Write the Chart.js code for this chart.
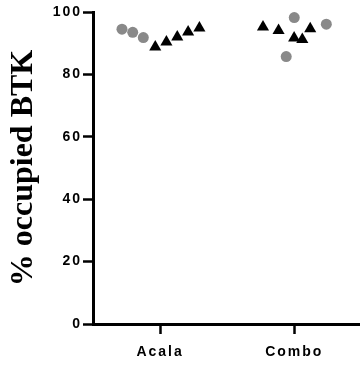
<!DOCTYPE html>
<html>
<head>
<meta charset="utf-8">
<script src="https://cdn.jsdelivr.net/npm/chart.js@4/dist/chart.umd.min.js"></script>
<style>
  html, body { margin: 0; padding: 0; background: #fff; }
  #wrap { width: 360px; height: 367px; }
</style>
</head>
<body>
<div id="wrap"><canvas id="c" width="360" height="367"></canvas></div>
<script>
// ---- data ----
const categories = ['Acala', 'Combo'];
const yTicks = [0, 20, 40, 60, 80, 100];

// circles (grey): positions along category axis (1 = Acala, 2 = Combo, jittered) and % values
const circleX = [0.716, 0.796, 0.875, 1.940, 2.000, 2.239];
const circleY = [94.5, 93.5, 91.8, 85.7, 98.2, 96.1];

// triangles (black)
const triangleX = [0.964, 1.047, 1.128, 1.209, 1.293, 1.767, 1.883, 1.999, 2.060, 2.119];
const triangleY = [88.8, 90.4, 92.0, 93.6, 94.9, 95.2, 94.1, 91.7, 91.2, 94.6];

const toPoints = (xs, ys) => xs.map((x, i) => ({ x: x, y: ys[i] }));

const labelSpacing = {
  id: 'labelSpacing',
  beforeDraw(chart) {
    Object.values(chart.scales).forEach(s => {
      if (!s._lsPatched) {
        const orig = s.drawLabels.bind(s);
        s.drawLabels = (ca) => {
          const ctx = s.ctx;
          const prev = ctx.letterSpacing;
          ctx.letterSpacing = '2px';
          orig(ca);
          ctx.letterSpacing = prev || '0px';
        };
        s._lsPatched = true;
      }
    });
  }
};

new Chart(document.getElementById('c'), {
  type: 'scatter',
  data: {
    datasets: [
      {
        label: 'circles',
        data: toPoints(circleX, circleY),
        pointStyle: 'circle',
        pointRadius: 5.5,
        pointHoverRadius: 5.5,
        backgroundColor: '#898989',
        borderColor: '#898989',
        borderWidth: 0
      },
      {
        label: 'triangles',
        data: toPoints(triangleX, triangleY),
        pointStyle: 'triangle',
        pointRadius: 7,
        pointHoverRadius: 7,
        backgroundColor: '#000',
        borderColor: '#000',
        borderWidth: 0
      }
    ]
  },
  options: {
    responsive: false,
    animation: false,
    clip: false,
    layout: { autoPadding: false, padding: { top: 12, right: 0, left: 0, bottom: 0 } },
    plugins: {
      legend: { display: false },
      tooltip: { enabled: false }
    },
    scales: {
      x: {
        type: 'linear',
        min: 0.5,
        max: 2.49,
        afterBuildTicks: (s) => { s.ticks = categories.map((c, i) => ({ value: i + 1 })); },
        afterFit: (s) => { s.height = 43; s.paddingLeft = 0; s.paddingRight = 0; },
        ticks: {
          callback: (v) => categories[Math.round(v) - 1] || '',
          color: '#000',
          font: { family: 'Liberation Sans', size: 14, weight: 'bold' },
          padding: 10,
          maxRotation: 0,
          autoSkip: false
        },
        grid: { display: true, drawOnChartArea: false, drawTicks: true, tickLength: 10, tickWidth: 2.5, tickColor: '#000' },
        border: { display: true, color: '#000', width: 3 }
      },
      y: {
        min: 0,
        max: 100,
        afterBuildTicks: (s) => { s.ticks = yTicks.map(v => ({ value: v })); },
        afterFit: (s) => { s.width = 93; },
        ticks: {
          color: '#000',
          font: { family: 'Liberation Sans', size: 14, weight: 'bold' },
          padding: 1
        },
        grid: { display: true, drawOnChartArea: false, drawTicks: true, tickLength: 10, tickWidth: 2.5, tickColor: '#000' },
        border: { display: true, color: '#000', width: 3 },
        title: {
          display: true,
          text: '% occupied BTK',
          color: '#000',
          font: { family: 'Liberation Serif', size: 32, weight: 'bold' },
          padding: { top: 5, bottom: 0 }
        }
      }
    }
  },
  plugins: [labelSpacing]
});
</script>
</body>
</html>
